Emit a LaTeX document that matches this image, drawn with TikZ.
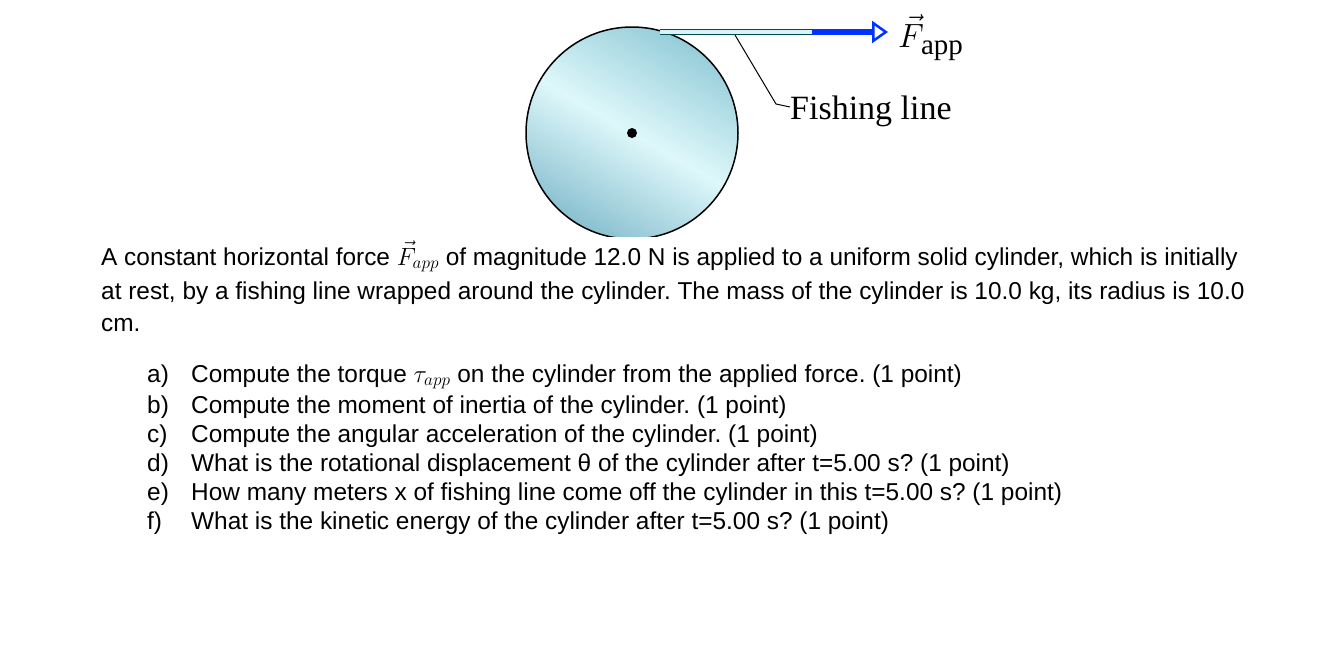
\documentclass[tikz,border=0pt]{standalone}
\usepackage{fontspec}
\setmainfont{Liberation Sans}
\newfontfamily\seriffont{Liberation Serif}
\usetikzlibrary{arrows.meta}
\definecolor{cylA}{RGB}{150,205,218}
\definecolor{cylB}{RGB}{222,248,250}
\definecolor{cylC}{RGB}{138,192,208}
\begin{document}
\frenchspacing
\begin{tikzpicture}[x=1pt,y=-1pt,
  body/.style={anchor=base west,inner sep=0pt,font=\fontsize{24.4}{28}\selectfont},
  lbl/.style={anchor=base west,inner sep=0pt,font=\seriffont\fontsize{34}{38}\selectfont}]
\useasboundingbox (0,0) rectangle (1336,659);
\begin{scope}
\clip (400,0) rectangle (1000,236);
\shade[top color=cylA, bottom color=cylC, middle color=cylB, shading angle=-30] (632,133) circle (106);
\draw[line width=1.5pt] (632,133) circle (106);
\end{scope}
\fill (632,133) circle (5) node (c) {};
\coordinate (t0) at (660,32);
\coordinate (t1) at (812,32);
\coordinate (t2) at (888,32);
\draw[teal!60!black,line width=6pt] (t0) -- (t1);
\draw[cyan!15!white,line width=3.6pt] (t0) -- (t1);
\draw[blue!80!cyan,line width=5.5pt,-{Triangle[open,length=16pt,width=22pt,line width=2.5pt]}] (t1) -- (t2);
\node[lbl] (F) at (898,47) {\scalebox{1.35}{$\vec{F}$}\kern-3pt\raisebox{-7pt}{\fontsize{29}{30}\selectfont app}};
\node[lbl] (fl) at (790,119) {Fishing line};
\coordinate (k1) at (735,35);
\coordinate (k2) at (776,104);
\draw[line width=1pt] (k1) -- (k2) -- (fl.base west |- 0,107);
\node[body] (p1) at (101,265) {A constant horizontal force $\vec{F}_{app}$ of magnitude 12.0 N is applied to a uniform solid cylinder, which is initially};
\node[body] (p2) at (101,299) {at rest, by a fishing line wrapped around the cylinder. The mass of the cylinder is 10.0 kg, its radius is 10.0};
\node[body] (p3) at (101,331) {cm.};
\foreach \l/\t/\y in {a)/{Compute the torque $\tau_{app}$ on the cylinder from the applied force. (1 point)}/382,
  b)/{Compute the moment of inertia of the cylinder. (1 point)}/413,
  c)/{Compute the angular acceleration of the cylinder. (1 point)}/442,
  d)/{What is the rotational displacement θ of the cylinder after t=5.00 s? (1 point)}/471,
  e)/{How many meters x of fishing line come off the cylinder in this t=5.00 s? (1 point)}/500,
  f)/{What is the kinetic energy of the cylinder after t=5.00 s? (1 point)}/529}
{\node[body] (l\l) at (147,\y) {\l}; \node[body] (i\l) at (191,\y) {\t};}
\end{tikzpicture}
\end{document}
